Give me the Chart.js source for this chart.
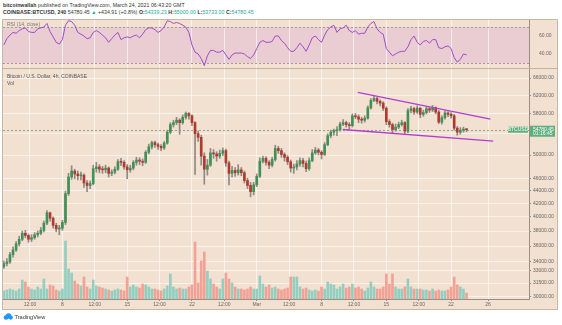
<!DOCTYPE html>
<html>
<head>
<meta charset="utf-8">
<script src="https://cdn.jsdelivr.net/npm/chart.js@4.4.1/dist/chart.umd.min.js"></script>
<style>
    body { margin: 0; width: 562px; height: 325px; background: #fff; overflow: hidden; position: relative; font-family: "Liberation Sans", Arial, sans-serif; }
    .hdr { position: absolute; left: 3px; font-size: 5.2px; color: #333; white-space: nowrap; letter-spacing: 0.05px; }
    .teal { color: #26a69a; }
    #panel { position: absolute; left: 2px; top: 19px; width: 556px; height: 291px; background: #f2e0d1; border: 1px solid #c9b8a8; box-sizing: border-box; }
    #rsiWrap { position: absolute; left: 2px; top: 20px; width: 555px; height: 49px; }
    #priceWrap { position: absolute; left: 2px; top: 69px; width: 555px; height: 241px; }
    #sep { position: absolute; left: 2px; top: 68px; width: 556px; height: 1px; background: #c4b3a3; }
    .lbl { position: absolute; left: 7px; font-size: 5px; color: #555; white-space: nowrap; }
    #logo { position: absolute; left: 3px; top: 313px; font-size: 5.6px; color: #333; white-space: nowrap; }
</style>
</head>
<body>
<div class="hdr" style="top:2px"><b>bitcoinwallah</b> published on TradingView.com, March 24, 2021 06:43:20 GMT</div>
<div class="hdr" style="top:9px"><b>COINBASE:BTCUSD, 240</b> 54780.45 <span class="teal">&#9650;</span> +434.91 (+0.8%) <b>O:</b><span class="teal">54339.23</span> <b>H:</b><span class="teal">55000.00</span> <b>L:</b><span class="teal">53733.00</span> <b>C:</b><span class="teal">54780.45</span></div>
<div id="panel"></div>
<div id="rsiWrap"><canvas id="rsiChart" width="555" height="49"></canvas></div>
<div id="sep"></div>
<div id="priceWrap"><canvas id="priceChart" width="555" height="241"></canvas></div>
<div class="lbl" style="top:21px;color:#777">RSI (14, close)</div>
<div class="lbl" style="top:73px">Bitcoin / U.S. Dollar, 4h, COINBASE</div>
<div class="lbl" style="top:80px">Vol</div>
<div id="logo"><svg width="10" height="7" viewBox="0 0 10 7" style="vertical-align:-1px"><circle cx="3" cy="4.5" r="2.3" fill="#2196f3"/><circle cx="5.5" cy="3" r="2.8" fill="#2196f3"/><circle cx="7.8" cy="4.6" r="2.1" fill="#2196f3"/></svg> TradingView</div>

<script>
// 8h candles, hours counted from Feb 1 2021 00:00
const START_HOUR = 16;
const STEP_HOURS = 8;
const firstOpen = 33400;

const closes = [
    33800, 34000, 34900, 35500, 36300, 36900, 37700, 37400, 36900, 37100,
    37500, 37700, 38100, 39100, 40600, 39800, 38800, 38300, 38400, 39200,
    43500, 46200, 47200, 46700, 46400, 46500, 45200, 44800, 45100, 47600,
    47900, 47500, 47400, 47700, 46800, 47000, 47500, 48800, 48700, 47900,
    47400, 47700, 48700, 49100, 48900, 48700, 50500, 51500, 52300, 51900,
    51600, 51300, 52200, 54300, 55800, 56200, 56700, 56200, 57300, 58100,
    57600, 56200, 54000, 53300, 49800, 47500, 48200, 50400, 50200, 49800,
    50300, 50800, 48600, 46800, 47300, 46900, 47400, 46900, 45600, 44800,
    43800, 44900, 46300, 48900, 49400, 48700, 48200, 49200, 51200, 50800,
    50100, 49600, 48800, 47700, 47900, 48400, 49000, 48500, 47600, 49000,
    50400, 50900, 50500, 50100, 51900, 53600, 54300, 54600, 54800, 55900,
    56200, 55800, 55600, 57600, 57400, 56900, 56700, 57100, 59300, 60900,
    61300, 60700, 60300, 59200, 56400, 55800, 54800, 55300, 55800, 56200,
    54500, 58700, 59100, 58400, 59200, 57900, 58300, 59100, 58800, 59300,
    58400, 56300, 57200, 58200, 57900, 57600, 55100, 54300, 54700, 54900,
    54780.45
];

const highs = [
    34100, 34400, 35200, 35900, 36600, 37300, 38000, 38100, 37600, 37500,
    37800, 38000, 38500, 39400, 40900, 40700, 40000, 39100, 38800, 39500,
    43900, 46800, 48100, 47500, 47200, 47000, 46700, 45600, 45500, 48200,
    48700, 48300, 48000, 48200, 47900, 47400, 47900, 49200, 49400, 49000,
    48300, 48200, 49000, 49600, 49500, 49300, 50800, 52000, 52600, 52600,
    52200, 51900, 52500, 54700, 56200, 56700, 57300, 57000, 57800, 58400,
    58300, 57800, 56400, 54500, 53700, 50400, 49200, 51200, 51000, 50600,
    50900, 51300, 51100, 48900, 48000, 47800, 48300, 47800, 47200, 46000,
    45300, 45300, 46700, 49500, 49800, 49700, 49000, 49600, 51800, 51600,
    51200, 50400, 49900, 49100, 48400, 49000, 49500, 49400, 48900, 49500,
    51000, 51400, 51200, 50800, 52300, 54000, 54700, 54900, 55400, 56300,
    56800, 56500, 56200, 58000, 58100, 57800, 57300, 57600, 59700, 61300,
    61800, 61600, 61000, 60600, 59500, 56800, 56100, 55900, 56300, 56700,
    56400, 59100, 59600, 59400, 59700, 59400, 58800, 59500, 59400, 59800,
    59500, 58700, 57600, 58600, 58500, 58300, 57900, 55400, 55200, 55300,
    55000
];

const lows = [
    33200, 33500, 33800, 34600, 35300, 36000, 36700, 37100, 36500, 36600,
    36900, 37200, 37500, 37900, 38900, 39400, 38400, 37900, 37500, 38100,
    38900, 43200, 45800, 45900, 45700, 45700, 44500, 43800, 44300, 44900,
    47000, 46900, 46800, 46900, 46200, 46400, 46700, 47300, 48100, 47500,
    45900, 47000, 47400, 48200, 48300, 48100, 48500, 50200, 51100, 51400,
    51000, 50800, 51000, 52000, 54000, 55300, 55800, 53900, 55900, 56900,
    56900, 55600, 46600, 52500, 48200, 45000, 46500, 48000, 49400, 48900,
    49400, 49900, 48000, 44900, 46200, 46300, 46500, 46400, 45200, 44300,
    43000, 43300, 44600, 46100, 48600, 48200, 47600, 47900, 48900, 50300,
    49600, 48900, 48300, 47000, 46800, 47400, 48000, 47900, 47100, 47300,
    48800, 50100, 50000, 49300, 49900, 51700, 53200, 53700, 53600, 54500,
    55600, 55300, 54900, 55300, 57000, 56200, 56100, 56300, 56900, 59000,
    60600, 60100, 59700, 58700, 55800, 55300, 54000, 54500, 55000, 55500,
    53900, 54200, 58200, 57900, 58100, 57200, 57500, 58000, 58300, 58500,
    58000, 56000, 55900, 56900, 57400, 57100, 54700, 53700, 53900, 54300,
    54400
];

const volumes = [
    3200, 3600, 4000, 3600, 3200, 4000, 7600, 6800, 4800, 4000,
    3600, 4800, 4000, 8000, 4000, 5600, 5200, 3600, 3200, 4000,
    23200, 12000, 10400, 7200, 6000, 5200, 8800, 4800, 4000, 7600,
    5200, 4800, 4400, 4000, 3600, 3200, 3600, 4000, 3600, 3200,
    8800, 4800, 5600, 4800, 4400, 6000, 5600, 4800, 4000, 4000,
    3600, 3200, 4000, 5200, 10000, 4800, 4000, 4400, 4000, 4000,
    4800, 5600, 22800, 6400, 15200, 18800, 11200, 8000, 6000, 4800,
    4000, 8000, 10400, 8000, 6400, 4800, 4000, 4000, 3600, 4000,
    4800, 4000, 4000, 9200, 6000, 4800, 5600, 4400, 4800, 4000,
    3600, 4000, 4400, 8800, 8800, 8800, 4800, 4000, 4400, 3600,
    3200, 3600, 3200, 4800, 4000, 6800, 6000, 5600, 4000, 4800,
    6000, 4400, 4800, 6000, 4400, 4800, 4000, 3200, 4400, 6800,
    4800, 4000, 4000, 4800, 10000, 6000, 10000, 4800, 4000, 4000,
    4800, 8000, 4800, 4000, 4000, 4000, 3600, 3600, 3200, 4000,
    3200, 3600, 3200, 3200, 3600, 4800, 8800, 5600, 4800, 4000,
    2400
];

const rsiValues = [
    50, 57, 61, 64, 63, 66, 68, 69, 65, 64,
    64, 68, 69, 70, 74, 65, 59, 53, 51, 56,
    72, 77, 76, 72, 64, 62, 60, 57, 58, 64,
    66, 64, 61, 58, 53, 57, 61, 64, 56, 58,
    59, 58, 60, 61, 58, 62, 67, 69, 69, 67,
    64, 66, 70, 77, 76, 74, 75, 74, 72, 70,
    64, 50, 42, 40, 35, 27, 38, 44, 44, 42,
    42, 44, 39, 34, 39, 41, 41, 41, 40, 37,
    35, 39, 46, 53, 55, 53, 53, 54, 60, 60,
    55, 52, 47, 43, 43, 47, 52, 48, 43, 50,
    58, 60, 56, 53, 61, 67, 70, 72, 64, 68,
    69, 72, 66, 64, 66, 62, 63, 63, 70, 74,
    76, 68, 64, 62, 46, 42, 38, 40, 42, 43,
    43, 48, 56, 60, 53, 50, 54, 55, 52, 56,
    56, 47, 46, 48, 49, 46, 36, 31, 34, 40,
    39
];

// wedge drawn on the chart: [hour, price] pairs
const upperTrend = [[934, 62700], [1278, 56900]];
const lowerTrend = [[895, 54820], [1285, 52560]];

const timeTicks = [84, 168, 252, 336, 420, 504, 588, 672, 756, 840, 924, 1008, 1092, 1176, 1272];
const timeLabels = ['12:00', '8', '12:00', '15', '12:00', '22', '12:00', 'Mar', '12:00', '8', '12:00', '15', '12:00', '22', '26'];
const priceTicks = [30000, 31500, 33000, 34000, 36000, 38000, 40000, 42000, 44000, 46000, 50000, 54000, 58000, 62000, 66000];
const rsiTicks = [40, 60];

const X_MIN = 14;
const X_MAX = 1378;
const upColor = '#3f9156';
const downColor = '#b03a2e';
const gridColor = 'rgba(255,255,255,0.6)';
const axisColor = '#9a8f86';
const tickFont = { family: 'Liberation Sans', size: 5 };

const hours = closes.map((c, i) => START_HOUR + i * STEP_HOURS);
const opens = closes.map((c, i) => i === 0 ? firstOpen : closes[i - 1]);
const isUp = closes.map((c, i) => c >= opens[i]);

function noPadding(s) {
    s.paddingTop = 0;
    s.paddingBottom = 0;
    s.paddingLeft = 0;
    s.paddingRight = 0;
}

function timeAxis(showLabels) {
    return {
        type: 'linear',
        min: X_MIN,
        max: X_MAX,
        offset: false,
        afterBuildTicks: (s) => { s.ticks = timeTicks.map(v => ({ value: v })); },
        afterFit: (s) => { s.height = showLabels ? 11 : 0; noPadding(s); },
        grid: { offset: false, color: gridColor, drawTicks: showLabels, tickLength: 2, tickColor: axisColor },
        border: { display: showLabels, color: axisColor },
        ticks: {
            display: showLabels,
            autoSkip: false,
            maxRotation: 0,
            padding: 1,
            color: '#666',
            font: tickFont,
            callback: (v, idx) => timeLabels[idx]
        }
    };
}

function rightAxis(extra) {
    return Object.assign({
        position: 'right',
        afterFit: (s) => { s.width = 28; noPadding(s); },
        grid: { color: gridColor, drawTicks: true, tickLength: 2, tickColor: axisColor },
        border: { color: axisColor },
        ticks: { autoSkip: false, padding: 2, color: '#666', font: tickFont, callback: (v) => Number(v).toFixed(2) }
    }, extra);
}

// RSI pane
const rsiBand = {
    id: 'rsiBand',
    beforeDraw(chart) {
        const ctx = chart.ctx, a = chart.chartArea, y = chart.scales.y;
        ctx.save();
        ctx.fillStyle = '#e9cdd3';
        ctx.fillRect(a.left, y.getPixelForValue(70), a.right - a.left, y.getPixelForValue(30) - y.getPixelForValue(70));
        ctx.restore();
    },
    beforeDatasetsDraw(chart) {
        const ctx = chart.ctx, a = chart.chartArea, y = chart.scales.y;
        ctx.save();
        ctx.strokeStyle = '#a39a9a';
        ctx.lineWidth = 1;
        ctx.setLineDash([2, 2]);
        [70, 30].forEach(function (level) {
            const py = Math.round(y.getPixelForValue(level)) + 0.5;
            ctx.beginPath();
            ctx.moveTo(a.left, py);
            ctx.lineTo(a.right, py);
            ctx.stroke();
        });
        ctx.restore();
    }
};

new Chart(document.getElementById('rsiChart'), {
    type: 'line',
    data: {
        datasets: [{
            data: rsiValues.map((v, i) => ({ x: hours[i], y: v })),
            borderColor: '#a24bc7',
            borderWidth: 1,
            pointRadius: 0,
            tension: 0
        }]
    },
    options: {
        responsive: false,
        animation: false,
        devicePixelRatio: 1,
        layout: { padding: { left: 1, right: 0, top: 0, bottom: 0 } },
        plugins: { legend: { display: false }, tooltip: { enabled: false } },
        scales: {
            x: timeAxis(false),
            y: rightAxis({
                type: 'linear',
                min: 23.3,
                max: 77.8,
                afterBuildTicks: (s) => { s.ticks = rsiTicks.map(v => ({ value: v })); },
                grid: { display: false }
            })
        }
    },
    plugins: [rsiBand]
});

// price pane
const lastClose = closes[closes.length - 1];

const priceMarks = {
    id: 'priceMarks',
    beforeDatasetsDraw(chart) {
        const ctx = chart.ctx, a = chart.chartArea;
        const py = Math.round(chart.scales.y.getPixelForValue(lastClose)) + 0.5;
        ctx.save();
        ctx.strokeStyle = 'rgba(110,140,100,0.7)';
        ctx.lineWidth = 1;
        ctx.setLineDash([2, 2]);
        ctx.beginPath();
        ctx.moveTo(a.left, py);
        ctx.lineTo(a.right, py);
        ctx.stroke();
        ctx.restore();
    },
    afterDraw(chart) {
        const ctx = chart.ctx, a = chart.chartArea;
        const py = chart.scales.y.getPixelForValue(lastClose);
        ctx.save();
        ctx.fillStyle = '#5fae7e';
        ctx.fillRect(a.right + 1, py - 4, 25, 11);
        ctx.fillRect(a.right - 21, py - 3, 20, 6);
        ctx.fillStyle = '#fff';
        ctx.font = '5px "Liberation Sans"';
        ctx.textBaseline = 'middle';
        ctx.textAlign = 'left';
        ctx.fillText('54780.45', a.right + 4, py - 0.5);
        ctx.fillText('01:16:45', a.right + 4, py + 4);
        ctx.textAlign = 'center';
        ctx.fillText('BTCUSD', a.right - 11, py);
        ctx.restore();
    }
};

new Chart(document.getElementById('priceChart'), {
    type: 'bar',
    data: {
        datasets: [
            {
                type: 'line',
                data: upperTrend.map(p => ({ x: p[0], y: p[1] })),
                borderColor: '#b13fd0',
                borderWidth: 1.3,
                pointRadius: 0,
                order: 0
            },
            {
                type: 'line',
                data: lowerTrend.map(p => ({ x: p[0], y: p[1] })),
                borderColor: '#b13fd0',
                borderWidth: 1.3,
                pointRadius: 0,
                order: 0
            },
            {
                data: hours.map((h, i) => ({ x: h, y: [opens[i], closes[i]] })),
                backgroundColor: isUp.map(u => u ? upColor : downColor),
                barThickness: 2,
                minBarLength: 1,
                grouped: false,
                order: 1
            },
            {
                data: hours.map((h, i) => ({ x: h, y: [lows[i], highs[i]] })),
                backgroundColor: '#8f8a86',
                barThickness: 1,
                grouped: false,
                order: 2
            },
            {
                yAxisID: 'yv',
                data: hours.map((h, i) => ({ x: h, y: volumes[i] })),
                backgroundColor: isUp.map(u => u ? '#93cfc0' : '#f2a195'),
                barThickness: 2,
                grouped: false,
                order: 3
            }
        ]
    },
    options: {
        responsive: false,
        animation: false,
        devicePixelRatio: 1,
        layout: { padding: { left: 1, right: 0, top: 0, bottom: 0 } },
        plugins: { legend: { display: false }, tooltip: { enabled: false } },
        scales: {
            x: timeAxis(true),
            y: rightAxis({
                type: 'logarithmic',
                min: 29740,
                max: 68200,
                afterBuildTicks: (s) => { s.ticks = priceTicks.map(v => ({ value: v })); }
            }),
            yv: {
                type: 'linear',
                display: false,
                min: 0,
                max: 92000
            }
        }
    },
    plugins: [priceMarks]
});
</script>
</body>
</html>
